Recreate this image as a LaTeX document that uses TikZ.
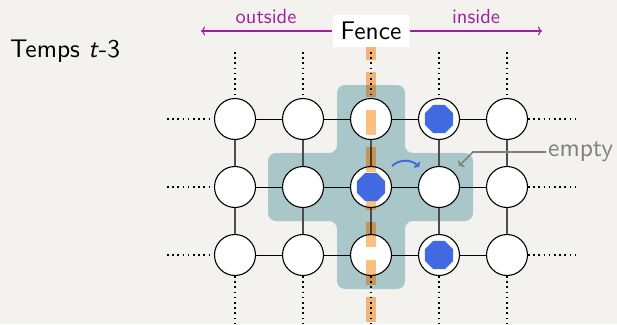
\documentclass[tikz,border=0pt]{standalone}
\usepackage{fontspec}
\setsansfont{lmsans10-regular.otf}[ItalicFont=lmsans10-oblique.otf, BoldFont=lmsans10-bold.otf]
\usetikzlibrary{shapes.geometric,arrows.meta}
\definecolor{bgpaper}{HTML}{F4F2EE}
\definecolor{zoneteal}{HTML}{A9C7C9}
\definecolor{zonewarm}{HTML}{C5C8B5}
\definecolor{fenceorange}{HTML}{FDBF7E}
\definecolor{agentblue}{HTML}{4169E1}
\definecolor{dirpurple}{HTML}{A01EA0}
\definecolor{notegray}{HTML}{808080}
\begin{document}
\begin{tikzpicture}[x=1pt,y=-1pt,
  cell/.style={circle, draw=black, line width=1.1pt, fill=white, minimum size=41pt, inner sep=0pt},
  agent/.style={regular polygon, regular polygon sides=8, fill=agentblue, minimum size=30.6pt, inner sep=0pt},
  hlink/.style={line width=1pt, black},
  vlink/.style={line width=1.4pt, black!70},
  stub/.style={line width=1.6pt, dash pattern=on 1.6pt off 3.6pt},
  fencedash/.style={line width=10.5pt, dash pattern=on 25pt off 12.5pt, dash phase=12.5pt},
  dirarrow/.style={line width=1.1pt, dirpurple, -{To[length=4pt,width=9pt]}},
  bigtext/.style={font=\sffamily\fontsize{25.5}{30}\selectfont},
  smalltext/.style={font=\sffamily\fontsize{20.5}{24}\selectfont},
]
\def\zonepath{(371,85) -- (405,85) -- (405,153) -- (473,153) -- (473,221) -- (405,221)
  -- (405,289) -- (337,289) -- (337,221) -- (268,221) -- (268,153)
  -- (337,153) -- (337,85) -- cycle}
% paper
\fill[bgpaper] (0,0) rectangle (617,324);
\useasboundingbox (0,0) rectangle (617,324);

% labels at the top (the fence box fixes where the fence starts)
\node[bigtext, fill=white, inner xsep=8pt, inner ysep=7pt] (fence) at (371,31) {Fence};
\coordinate (fenceend) at (371,324);

% cross-shaped neighbourhood
\fill[zoneteal, rounded corners=8pt] \zonepath;
% warmer tint of the zone under the fence dashes
\begin{scope}
  \clip[rounded corners=8pt] \zonepath;
  \draw[fencedash, zonewarm] (fence.south) -- (fenceend);
\end{scope}

% grid cells
\foreach \c/\x in {1/235,2/303,3/371,4/439,5/507}{
  \foreach \r/\y in {1/119,2/187,3/255}{
    \node[cell] (n\r\c) at (\x,\y) {};
  }
}

% links between cells
\foreach \r in {1,2,3}{
  \foreach \c/\d in {1/2,2/3,3/4,4/5}{
    \draw[hlink] (n\r\c.east) -- (n\r\d.west);
  }
}
\foreach \c in {1,...,5}{
  \draw[vlink] (n1\c.south) -- (n2\c.north);
  \draw[vlink] (n2\c.south) -- (n3\c.north);
}

% the grid goes on beyond the picture
\foreach \c/\x in {1/235,2/303,3/371,4/439,5/507}{
  \coordinate (top\c) at (\x,52);
  \coordinate (bot\c) at (\x,324);
  \draw[stub] (top\c) -- (n1\c.north);
  \draw[stub] (n3\c.south) -- (bot\c);
}
\foreach \r/\y in {1/119,2/187,3/255}{
  \coordinate (left\r) at (167,\y);
  \coordinate (right\r) at (575,\y);
  \draw[stub] (left\r) -- (n\r1.west);
  \draw[stub] (n\r5.east) -- (right\r);
}

% the fence
\begin{scope}[blend mode=multiply]
  \draw[fencedash, fenceorange] (fence.south) -- (fenceend);
\end{scope}

% agents
\node[agent] (a14) at (n14) {};
\node[agent] (a23) at (n23) {};
\node[agent] (a34) at (n34) {};

% move of the agent on the fence
\coordinate (hopA) at (392,166);
\coordinate (hopB) at (419,167);
\draw[agentblue, line width=2pt, -{To[length=4pt,width=8pt]}] (hopA) to[bend left=45] (hopB);

% sides of the fence
\coordinate (outtip) at (201,31);
\coordinate (intip) at (542,31);
\draw[dirarrow] (fence.west) -- (outtip);
\draw[dirarrow] (fence.east) -- (intip);
\node[smalltext, text=dirpurple, anchor=base] (outlbl) at (266,23) {outside};
\node[smalltext, text=dirpurple, anchor=base] (inlbl) at (476,23) {inside};

% time step
\node[bigtext, anchor=base west, inner sep=0pt] (temps) at (10,57.7) {Temps \textit{t}-3};

% empty cell note
\node[font=\sffamily\fontsize{25.5}{30}\selectfont, text=notegray, anchor=west, inner sep=2pt] (emptylbl) at (546,152) {empty};
\coordinate (emptybend) at (473,152);
\coordinate (emptytip) at (459,166);
\draw[notegray, line width=1.6pt, -{To[length=4pt,width=9pt]}] (emptylbl.west) -- (emptybend) -- (emptytip);
\end{tikzpicture}
\end{document}
